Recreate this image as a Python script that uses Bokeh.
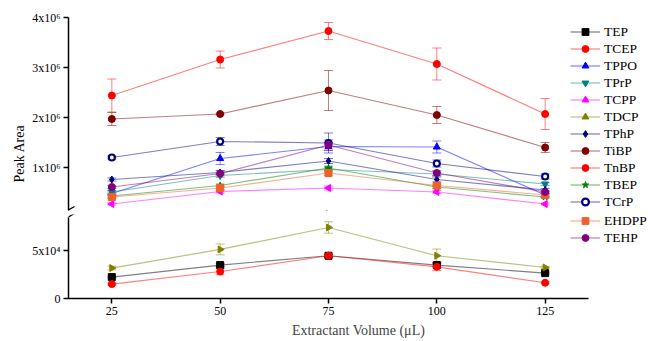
import numpy as np
from math import pi
from bokeh.plotting import figure
from bokeh.models import (Range1d, FixedTicker, Whisker, TeeHead, ColumnDataSource,
                          Legend, LegendItem, Label, Arrow)
from bokeh.layouts import row, column
from bokeh.embed import file_html
from bokeh.resources import INLINE

# ---------------- data ----------------
volume = [25, 50, 75, 100, 125]

TEP = [2.24e4, 3.50e4, 4.48e4, 3.50e4, 2.66e4]
TEP_err = [0.10e4, 0.15e4, 0.15e4, 0.20e4, 0.10e4]
TCEP = [2.44e6, 3.16e6, 3.73e6, 3.07e6, 2.07e6]
TCEP_err = [0.33e6, 0.17e6, 0.17e6, 0.32e6, 0.31e6]
TPPO = [0.48e6, 1.18e6, 1.42e6, 1.41e6, 0.45e6]
TPPO_err = [0.03e6, 0.12e6, 0.08e6, 0.12e6, 0.04e6]
TPrP = [0.51e6, 0.84e6, 0.96e6, 0.87e6, 0.67e6]
TPrP_err = [0.03e6, 0.04e6, 0.05e6, 0.04e6, 0.03e6]
TCPP = [0.27e6, 0.52e6, 0.59e6, 0.51e6, 0.27e6]
TCPP_err = [0.02e6, 0.03e6, 0.04e6, 0.03e6, 0.02e6]
TDCP = [3.19e4, 5.14e4, 7.44e4, 4.48e4, 3.25e4]
TDCP_err = [0.20e4, 0.57e4, 0.60e4, 0.70e4, 0.12e4]
TPhP = [0.76e6, 0.90e6, 1.13e6, 0.76e6, 0.55e6]
TPhP_err = [0.03e6, 0.04e6, 0.05e6, 0.05e6, 0.03e6]
TiBP = [1.97e6, 2.07e6, 2.54e6, 2.05e6, 1.40e6]
TiBP_err = [0.13e6, 0.02e6, 0.40e6, 0.17e6, 0.10e6]
TnBP = [1.51e4, 2.83e4, 4.48e4, 3.32e4, 1.65e4]
TnBP_err = [0.10e4, 0.35e4, 0.15e4, 0.40e4, 0.10e4]
TBEP = [0.43e6, 0.64e6, 0.99e6, 0.61e6, 0.41e6]
TBEP_err = [0.03e6, 0.03e6, 0.04e6, 0.03e6, 0.02e6]
TCrP = [1.20e6, 1.52e6, 1.49e6, 1.08e6, 0.82e6]
TCrP_err = [0.03e6, 0.08e6, 0.20e6, 0.07e6, 0.05e6]
EHDPP = [0.41e6, 0.59e6, 0.89e6, 0.64e6, 0.45e6]
EHDPP_err = [0.03e6, 0.03e6, 0.05e6, 0.03e6, 0.02e6]
TEHP = [0.61e6, 0.88e6, 1.45e6, 0.89e6, 0.51e6]
TEHP_err = [0.03e6, 0.05e6, 0.10e6, 0.05e6, 0.03e6]

upper_ticks = [1e6, 2e6, 3e6, 4e6]
upper_tick_labels = ["1x10\u2076", "2x10\u2076", "3x10\u2076", "4x10\u2076"]
lower_ticks = [0, 5e4]
lower_tick_labels = ["0", "5x10\u2074"]
x_ticks = [25, 50, 75, 100, 125]

# name, values, errors, color, marker, angle, fill, section
series = [
    ("TEP", TEP, TEP_err, "#000000", "square", 0, None, "low"),
    ("TCEP", TCEP, TCEP_err, "#FF0000", "circle", 0, None, "up"),
    ("TPPO", TPPO, TPPO_err, "#0000FF", "triangle", 0, None, "up"),
    ("TPrP", TPrP, TPrP_err, "#008080", "inverted_triangle", 0, None, "up"),
    ("TCPP", TCPP, TCPP_err, "#FF00FF", "triangle", pi / 2, None, "up"),
    ("TDCP", TDCP, TDCP_err, "#808000", "triangle", -pi / 2, None, "low"),
    ("TPhP", TPhP, TPhP_err, "#000080", "diamond", 0, None, "up"),
    ("TiBP", TiBP, TiBP_err, "#800000", "circle", 0, None, "up"),
    ("TnBP", TnBP, TnBP_err, "#FF0000", "circle", 0, None, "low"),
    ("TBEP", TBEP, TBEP_err, "#008000", "star", 0, None, "up"),
    ("TCrP", TCrP, TCrP_err, "#000080", "circle", 0, "#FFFFFF", "up"),
    ("EHDPP", EHDPP, EHDPP_err, "#F0602A", "square", 0, None, "up"),
    ("TEHP", TEHP, TEHP_err, "#800080", "circle", 0, None, "up"),
]

FONT = "Liberation Serif"

# x scale: 520 px for 120 units; frame runs to the right edge so the legend is not clipped
up = figure(width=622, height=214, y_range=Range1d(0.14e6, 4.0e6),
            x_range=Range1d(15, 148.85), x_axis_location=None,
            min_border_left=42, min_border_right=0, min_border_top=17, min_border_bottom=4,
            output_backend="svg", toolbar_location=None)
low = figure(width=622, height=127, y_range=Range1d(0, 8.8e4),
             x_range=Range1d(15, 148.85),
             min_border_left=42, min_border_right=0, min_border_top=0, min_border_bottom=43,
             output_backend="svg", toolbar_location=None)

figs = {"up": up, "low": low}
items = []

for idx, (name, vals, errs, color, marker, ang, fill, sec) in enumerate(series):
    v = np.array(vals)
    e = np.array(errs)
    src = ColumnDataSource(dict(x=volume, y=vals, lower=list(v - e), upper=list(v + e)))
    legend_key = "up" if idx < 11 else "low"
    # each series is drawn in both panels; the panel frames clip it to its own section
    for key, p in figs.items():
        lr = p.line("x", "y", source=src, line_color=color, line_alpha=0.5, line_width=1.2)
        if fill is None:
            sr = p.scatter("x", "y", source=src, marker=marker, size=7, angle=ang,
                           fill_color=color, line_color=color)
        else:
            sr = p.scatter("x", "y", source=src, marker=marker, size=6, angle=ang,
                           fill_color=fill, line_color=color, line_width=2.2)
        if key == sec:
            w = Whisker(source=src, base="x", lower="lower", upper="upper",
                        line_color=color, line_alpha=0.5, line_width=1,
                        upper_head=TeeHead(size=9, line_color=color, line_alpha=0.5, line_width=1),
                        lower_head=TeeHead(size=9, line_color=color, line_alpha=0.5, line_width=1))
            p.add_layout(w)
        if key == legend_key:
            items.append(LegendItem(label=name, renderers=[lr, sr]))

for p in (up, low):
    p.outline_line_color = None
    p.xgrid.visible = False
    p.ygrid.visible = False
    p.background_fill_color = None
    p.border_fill_color = None
    for ax in p.yaxis:
        ax.axis_line_width = 1.5
        ax.major_tick_line_width = 1.5
        ax.major_tick_out = 5
        ax.major_tick_in = 0
        ax.minor_tick_line_color = None
        ax.major_label_text_font = FONT
        ax.major_label_text_font_size = "12px"
        ax.major_label_text_color = "#000000"
        ax.major_label_standoff = 3

up.yaxis.ticker = FixedTicker(ticks=upper_ticks)
up.yaxis.major_label_overrides = dict(zip(upper_ticks, upper_tick_labels))
up.yaxis.bounds = (0.14e6, 4.0e6)
low.yaxis.ticker = FixedTicker(ticks=lower_ticks)
low.yaxis.major_label_overrides = {0: lower_tick_labels[0], 50000: lower_tick_labels[1]}
low.yaxis.bounds = (0, 8.5e4)

xa = low.xaxis[0]
xa.bounds = (15, 135)
xa.ticker = FixedTicker(ticks=x_ticks)
xa.axis_line_width = 1.5
xa.major_tick_line_width = 1.5
xa.major_tick_out = 5
xa.major_tick_in = 0
xa.minor_tick_line_color = None
xa.major_label_text_font = FONT
xa.major_label_text_font_size = "12px"
xa.major_label_text_color = "#000000"
xa.major_label_standoff = 3
xa.axis_label = "Extractant Volume (\u03bcL)"
xa.axis_label_text_font = FONT
xa.axis_label_text_font_size = "14px"
xa.axis_label_text_font_style = "normal"
xa.axis_label_standoff = 5

leg_kw = dict(orientation="vertical", padding=0, spacing=0, margin=0,
              glyph_width=30, glyph_height=17, label_height=17, label_standoff=4,
              border_line_color=None, background_fill_alpha=0,
              label_text_font=FONT, label_text_font_size="13.5px", label_text_color="#000000")
up.add_layout(Legend(items=items[:11], location=(502, 0), **leg_kw))
low.add_layout(Legend(items=items[11:], location=(502, 52), **leg_kw))

# axis break marks
up.add_layout(Arrow(end=None, x_start=-6, y_start=-3, x_end=6, y_end=4,
                    start_units="screen", end_units="screen", line_width=1.2, line_color="#000000"))
low.add_layout(Arrow(end=None, x_start=-6, y_start=78, x_end=6, y_end=85,
                     start_units="screen", end_units="screen", line_width=1.2, line_color="#000000"))

lab = figure(width=26, height=341, output_backend="svg", toolbar_location=None,
             x_axis_location=None, y_axis_location=None, min_border=0,
             x_range=Range1d(0, 1), y_range=Range1d(0, 1))
lab.outline_line_color = None
lab.xgrid.visible = False
lab.ygrid.visible = False
lab.add_layout(Label(x=18.5, y=188, x_units="screen", y_units="screen", text="Peak Area",
                     angle=pi / 2, text_align="center", text_baseline="middle",
                     text_font=FONT, text_font_size="14px", text_color="#000000"))

layout = row(lab, column(up, low))
open("out.html", "w").write(file_html(layout, INLINE))
